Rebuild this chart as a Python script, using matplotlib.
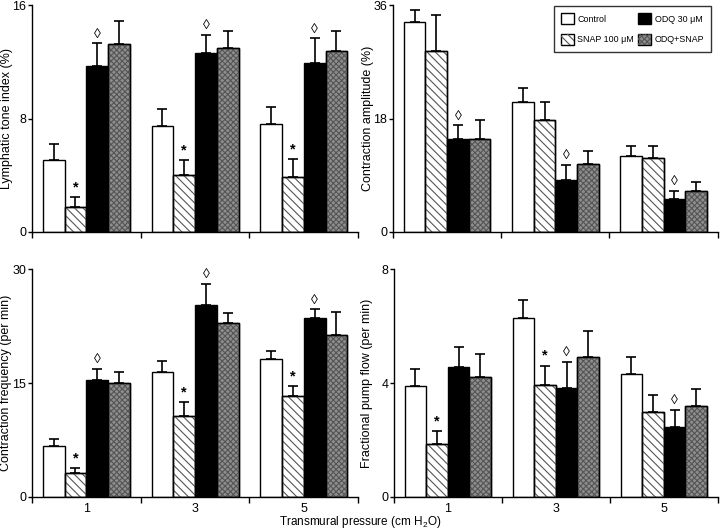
import matplotlib
matplotlib.use("Agg")
import matplotlib.pyplot as plt
import numpy as np
from matplotlib.patches import Patch

plt.rcParams['font.family'] = ['Liberation Sans', 'DejaVu Sans']
plt.rcParams['mathtext.default'] = 'regular'
plt.rcParams['hatch.linewidth'] = 0.8

pressures = ["1", "3", "5"]
treatments = ["Control", "SNAP 100 \u03bcM", "ODQ 30 \u03bcM", "ODQ+SNAP"]

# mean values per treatment (rows) for pressures 1, 3, 5
tone = [[5.1, 7.45, 7.65],
        [1.75, 4.0, 3.9],
        [11.7, 12.6, 11.95],
        [13.25, 12.95, 12.75]]
tone_err = [[1.1, 1.2, 1.15],
            [0.7, 1.05, 1.25],
            [1.6, 1.3, 1.7],
            [1.6, 1.25, 1.4]]

amp = [[33.4, 20.6, 12.0],
       [28.8, 17.8, 11.7],
       [14.7, 8.3, 5.2],
       [14.7, 10.8, 6.5]]
amp_err = [[1.8, 2.2, 1.7],
           [5.7, 2.8, 2.0],
           [2.2, 2.4, 1.3],
           [3.0, 2.0, 1.5]]

freq = [[6.7, 16.5, 18.1],
        [3.1, 10.7, 13.3],
        [15.45, 25.3, 23.5],
        [14.95, 22.9, 21.3]]
freq_err = [[0.9, 1.4, 1.1],
            [0.7, 1.75, 1.3],
            [1.45, 2.8, 1.2],
            [1.45, 1.35, 3.0]]

flow = [[3.9, 6.3, 4.3],
        [1.87, 3.94, 3.0],
        [4.57, 3.82, 2.46],
        [4.22, 4.91, 3.18]]
flow_err = [[0.6, 0.6, 0.6],
            [0.45, 0.67, 0.57],
            [0.7, 0.92, 0.59],
            [0.8, 0.9, 0.62]]

# significance marks: (treatment index, group index, symbol)
tone_marks = [(1, g, "*") for g in range(3)] + [(2, g, "\u25ca") for g in range(3)]
amp_marks = [(2, g, "\u25ca") for g in range(3)]
freq_marks = [(1, g, "*") for g in range(3)] + [(2, g, "\u25ca") for g in range(3)]
flow_marks = [(1, 0, "*"), (1, 1, "*"), (2, 1, "\u25ca"), (2, 2, "\u25ca")]

faces = ["white", "white", "black", "#8e8e8e"]
hatches = [None, "\\\\\\\\", None, "xxxxxx"]
hatch_cols = [None, "#555555", None, "#555555"]

panels = [
    (tone, tone_err, tone_marks, 16, "Lymphatic tone index (%)", [0.0444, 0.5623, 0.453, 0.428], False, -0.077),
    (amp, amp_err, amp_marks, 36, "Contraction amplitude (%)", [0.5458, 0.5623, 0.451, 0.428], False, -0.077),
    (freq, freq_err, freq_marks, 30, "Contraction frequency (per min)", [0.0444, 0.0623, 0.453, 0.430], True, -0.079),
    (flow, flow_err, flow_marks, 8, "Fractional pump flow (per min)", [0.547, 0.0623, 0.450, 0.430], True, -0.083),
]

fig = plt.figure(figsize=(7.2, 5.3), dpi=100)
centers = np.arange(3) + 0.5
width = 0.2
offsets = [-0.3, -0.1, 0.1, 0.3]
legend_handles = []

for idx, (vals, errs, marks, ymax, ylabel, rect, show_x, label_x) in enumerate(panels):
    ax = fig.add_axes(rect)
    for t in range(4):
        x = centers + offsets[t]
        ax.bar(x, vals[t], width, color=faces[t], edgecolor="black", linewidth=1.0, zorder=2)
        if hatches[t]:
            ax.bar(x, vals[t], width, color="none", edgecolor=hatch_cols[t],
                   hatch=hatches[t], linewidth=0, zorder=2.5)
            ax.bar(x, vals[t], width, color="none", edgecolor="black", linewidth=1.0, zorder=2.6)
        ax.errorbar(x, vals[t], yerr=[np.zeros(3), errs[t]], fmt="none", ecolor="black",
                    elinewidth=1.2, capsize=3.5, capthick=1.2, zorder=1)
    for t, g, sym in marks:
        top = vals[t][g] + errs[t][g]
        ax.text(centers[g] + offsets[t], top + ymax * 0.012, sym, ha="center", va="bottom",
                fontsize=10.5 if sym == "*" else 10, fontweight="bold" if sym == "*" else "normal")
    ax.set_xlim(0, 3)
    ax.set_ylim(0, ymax)
    ax.set_yticks([0, ymax / 2, ymax])
    ax.set_yticklabels(["0", "%g" % (ymax / 2), "%g" % ymax])
    ax.set_xticks([0, 1, 2, 3])
    ax.set_xticklabels([])
    ax.set_xticks(centers, minor=True)
    if show_x:
        ax.set_xticklabels(pressures, minor=True)
    ax.tick_params(axis="x", which="minor", length=0, labelsize=9, pad=4)
    ax.tick_params(axis="x", which="major", length=4, width=1)
    ax.tick_params(axis="y", length=3, width=1, labelsize=9, pad=1)
    for s in ["top", "right"]:
        ax.spines[s].set_visible(False)
    ax.spines["left"].set_linewidth(1)
    ax.spines["bottom"].set_linewidth(1)
    ax.set_ylabel(ylabel, fontsize=9, va="center")
    ax.yaxis.set_label_coords(label_x, 0.5)
    if idx == 1:
        for t in range(4):
            base = Patch(facecolor=faces[t], edgecolor="black", linewidth=1.0)
            if hatches[t]:
                over = Patch(facecolor="none", edgecolor=hatch_cols[t], hatch=hatches[t], linewidth=0)
                legend_handles.append((base, over))
            else:
                legend_handles.append(base)
        leg = ax.legend(legend_handles, treatments, ncol=2, loc="upper right",
                        bbox_to_anchor=(0.98, 0.996), fontsize=6.4, frameon=True, fancybox=False,
                        edgecolor="black", handlelength=1.5, handleheight=1.5,
                        columnspacing=0.45, handletextpad=0.35, borderpad=0.8, labelspacing=1.1,
                        borderaxespad=0.0)
        leg.get_frame().set_linewidth(1.0)

fig.text(0.5, 0.016, "Transmural pressure (cm H$_2$O)", ha="center", va="center", fontsize=8.5)

fig.savefig("out.png", dpi=100)
